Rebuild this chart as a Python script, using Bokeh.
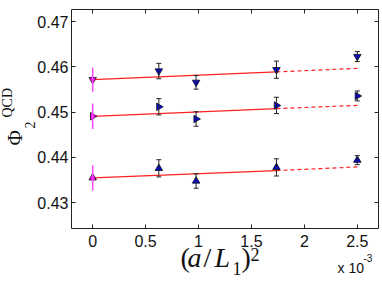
import numpy as np
from bokeh.plotting import figure
from bokeh.models import (ColumnDataSource, Whisker, TeeHead, Label, LinearAxis,
                          FixedTicker, CustomJSTickFormatter, Range1d)
from bokeh.embed import file_html
from bokeh.resources import INLINE

# ---- data ----
a_L1_sq = [0.000625, 0.000977, 0.001736, 0.0025]   # (a/L1)^2
x_cont = [0.0]                                      # continuum limit
fit_x_solid = [0.0, 0.001736]
fit_x_dash = [0.001736, 0.0025]

top_y = [0.4591, 0.4566, 0.4594, 0.4623]
top_err = [0.0017, 0.0015, 0.0019, 0.0011]
top_cont = [0.4572]
top_cont_err = [0.0027]
top_fit_solid = [0.4572, 0.4589]
top_fit_dash = [0.4589, 0.4597]

mid_y = [0.4512, 0.4485, 0.4515, 0.4536]
mid_err = [0.0018, 0.0016, 0.0018, 0.0011]
mid_cont = [0.4491]
mid_cont_err = [0.0028]
mid_fit_solid = [0.4491, 0.4508]
mid_fit_dash = [0.4508, 0.4515]

bot_y = [0.4376, 0.4348, 0.4378, 0.4394]
bot_err = [0.0019, 0.0016, 0.0019, 0.0010]
bot_cont = [0.4355]
bot_cont_err = [0.0028]
bot_fit_solid = [0.4355, 0.4371]
bot_fit_dash = [0.4371, 0.4379]

x_ticks = [0.0, 0.0005, 0.001, 0.0015, 0.002, 0.0025]
y_ticks = [0.43, 0.44, 0.45, 0.46, 0.47]

# axes box limits
XA, XB = -0.0002, 0.0027
YA, YB = 0.4243, 0.4727

# canvas layout (pixels): the axes box sits inside the canvas
W, H = 380, 284
BOX_L, BOX_R, BOX_T, BOX_B = 71, 378, 9, 228
kx = (XB - XA) / (BOX_R - BOX_L)
ky = (YB - YA) / (BOX_B - BOX_T)
x_start, x_end = XA - BOX_L * kx, XB + (W - BOX_R) * kx
y_start, y_end = YA - (H - BOX_B) * ky, YB + BOX_T * ky

def dx(px):
    return x_start + px * kx

def dy(py):
    return y_end - py * ky

FRAME = "#222222"

p = figure(width=W, height=H, x_range=Range1d(x_start, x_end),
           y_range=Range1d(y_start, y_end), output_backend="svg",
           toolbar_location=None, x_axis_location=None, y_axis_location=None,
           min_border_left=0, min_border_right=0, min_border_top=0, min_border_bottom=0)
p.title.visible = False
p.background_fill_color = "white"
p.border_fill_color = "white"
p.outline_line_color = None
p.xgrid.visible = False
p.ygrid.visible = False

xfmt = CustomJSTickFormatter(code="return String(Math.round(tick*1e4)/10);")
yfmt = CustomJSTickFormatter(code="return tick.toFixed(2);")

def make_axis(ticks, loc, bounds, fmt=None, show_labels=False, standoff=3):
    ax = LinearAxis(ticker=FixedTicker(ticks=ticks), fixed_location=loc, bounds=bounds,
                    major_tick_in=4, major_tick_out=0, minor_tick_line_color=None,
                    axis_line_color=FRAME, axis_line_width=1,
                    major_tick_line_color=FRAME, major_label_standoff=standoff)
    if fmt is not None:
        ax.formatter = fmt
    if show_labels:
        ax.major_label_text_font = "Liberation Sans"
        ax.major_label_text_font_size = "16px"
        ax.major_label_text_color = "#111111"
    else:
        ax.major_label_text_color = None
    return ax

p.add_layout(make_axis(x_ticks, YA, (XA, XB), xfmt, True, 6), "below")
p.add_layout(make_axis(y_ticks, XA, (YA, YB), yfmt, True, 3), "left")
p.add_layout(make_axis(x_ticks, YB, (XA, XB)), "above")
p.add_layout(make_axis(y_ticks, XB, (YA, YB)), "right")

series = [
    (top_y, top_err, top_cont, top_cont_err, top_fit_solid, top_fit_dash, "inverted_triangle", 0.0),
    (mid_y, mid_err, mid_cont, mid_cont_err, mid_fit_solid, mid_fit_dash, "triangle", -np.pi / 2),
    (bot_y, bot_err, bot_cont, bot_cont_err, bot_fit_solid, bot_fit_dash, "triangle", 0.0),
]

for ys, es, cy, ce, fs, fd, mk, ang in series:
    p.line(fit_x_solid, fs, line_color="#ff2020", line_width=1.2)
    p.line(fit_x_dash, fd, line_color="#ff2020", line_width=1.2, line_dash="4 3")
    src = ColumnDataSource(dict(x=a_L1_sq, y=ys,
                                lo=[y - e for y, e in zip(ys, es)],
                                hi=[y + e for y, e in zip(ys, es)]))
    p.add_layout(Whisker(base="x", lower="lo", upper="hi", source=src, dimension="height",
                         line_color="#222222", line_width=1,
                         upper_head=TeeHead(size=5, line_color="#222222", line_width=1),
                         lower_head=TeeHead(size=5, line_color="#222222", line_width=1),
                         level="glyph"))
    csrc = ColumnDataSource(dict(x=x_cont, y=cy,
                                 lo=[y - e for y, e in zip(cy, ce)],
                                 hi=[y + e for y, e in zip(cy, ce)]))
    p.add_layout(Whisker(base="x", lower="lo", upper="hi", source=csrc, dimension="height",
                         line_color="#ff44ff", line_width=1.5,
                         upper_head=None, lower_head=None, level="glyph"))
    p.scatter("x", "y", source=src, marker=mk, angle=ang, size=7.5,
              fill_color="#0000ee", line_color="#111111", line_width=0.8)
    p.scatter("x", "y", source=csrc, marker=mk, angle=ang, size=7.5,
              fill_color="#ff00ff", line_color="#111111", line_width=0.8)

SERIF = "Liberation Serif"
# x-axis label pieces: (a/L_1)^2 ; positions in canvas pixels (left, anchor)
xl = [
    ("(", 180, 257, "28px", "normal"),
    ("a", 187, 257, "28px", "italic"),
    ("/", 203, 257, "28px", "normal"),
    ("L", 214, 257, "28px", "italic"),
    ("1", 232, 268, "18px", "normal"),
    (")", 241, 257, "28px", "normal"),
    ("2", 250, 254, "18px", "normal"),
]
for t, x, y, fs, st in xl:
    p.add_layout(Label(x=dx(x), y=dy(y), text=t,
                       text_font=SERIF, text_font_size=fs, text_font_style=st,
                       text_color="#111111", text_baseline="alphabetic", text_align="left"))

# multiplier label  x 10^-3
p.add_layout(Label(x=dx(337), y=dy(267), text="x 10",
                   text_font="Liberation Sans", text_font_size="14px", text_color="#111111",
                   text_baseline="alphabetic", text_align="left"))
p.add_layout(Label(x=dx(363), y=dy(257), text="-3",
                   text_font="Liberation Sans", text_font_size="10px", text_color="#111111",
                   text_baseline="alphabetic", text_align="left"))

# y-axis label  Phi_2^QCD (rotated, reading upward); (anchor x, start y)
yl = [
    ("\u03a6", 14, 145, "21px"),
    ("2", 29, 128, "14px"),
    ("QCD", 7, 117, "14px"),
]
for t, x, y, fs in yl:
    p.add_layout(Label(x=dx(x), y=dy(y), text=t, angle=np.pi / 2,
                       text_font=SERIF, text_font_size=fs, text_color="#111111",
                       text_baseline="alphabetic", text_align="left"))

open("out.html", "w").write(file_html(p, INLINE))
